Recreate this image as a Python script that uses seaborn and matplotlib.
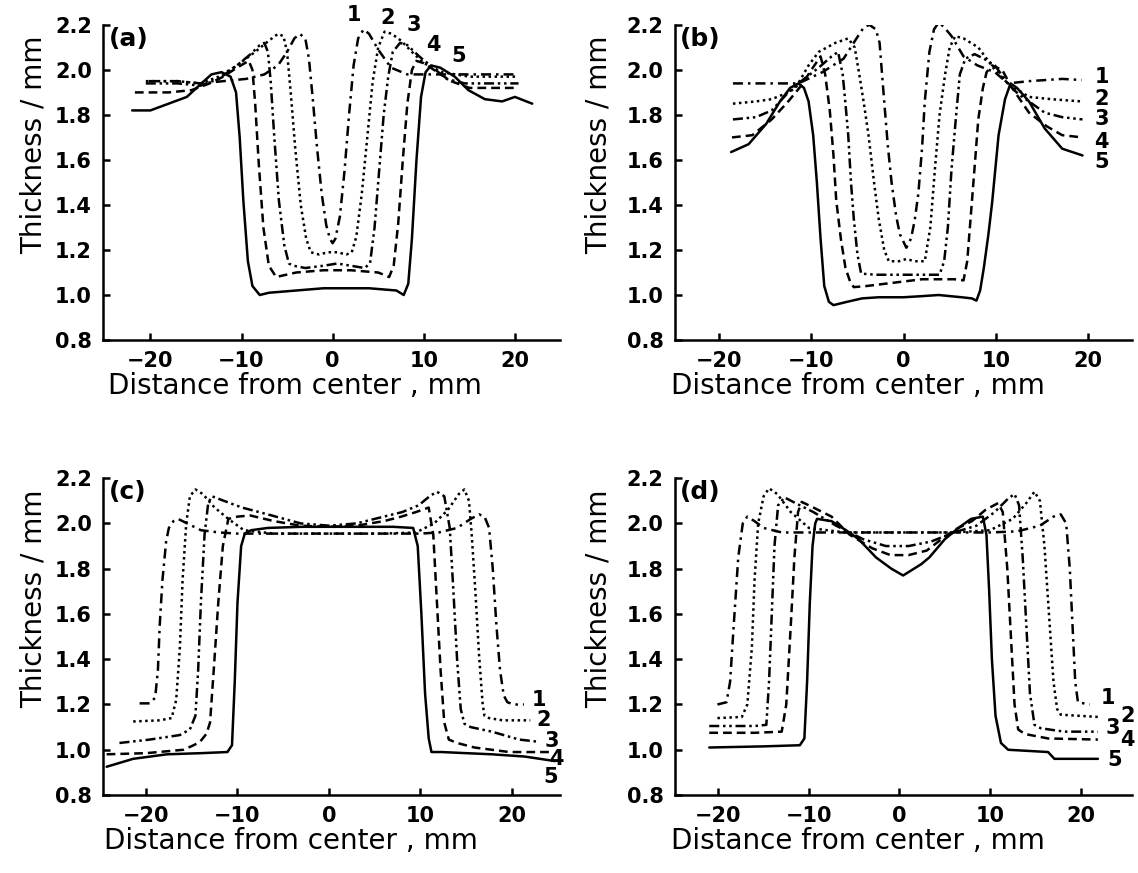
import matplotlib
matplotlib.use("Agg")
import matplotlib.pyplot as plt
import seaborn as sns
import pandas as pd

# ---- panel (a) ----
A1_X = [-20.2, -17, -14.5, -12, -9.5, -7.5, -6, -5, -4.2, -3.6, -3.0, -2.6, -2.2, -1.7, -1.2, -0.7, -0.3, 0.0,
        0.3, 0.8, 1.3, 1.8, 2.3, 2.8, 3.4, 4.0, 5.0, 6.4, 8.2, 10.5, 14, 20.4]
A1_Y = [1.95, 1.95, 1.94, 1.95, 1.96, 1.98, 2.02, 2.08, 2.14, 2.16, 2.14, 2.05, 1.88, 1.65, 1.45, 1.31, 1.25, 1.23,
        1.25, 1.35, 1.55, 1.80, 2.02, 2.14, 2.18, 2.16, 2.09, 2.01, 1.98, 1.98, 1.98, 1.98]
A2_X = [-20.5, -17, -14.5, -12.5, -10.5, -8.5, -7, -6.0, -5.4, -5.0, -4.6, -4.1, -3.5, -2.9, -2.4, -1.5, -0.5, 0.5,
        1.5, 2.1, 2.6, 3.2, 3.8, 4.4, 5.0, 5.7, 6.5, 7.5, 8.7, 10, 12, 15, 20.4]
A2_Y = [1.95, 1.95, 1.94, 1.97, 2.02, 2.08, 2.13, 2.16, 2.15, 2.08, 1.90, 1.65, 1.40, 1.25, 1.19, 1.18, 1.19, 1.19,
        1.18, 1.19, 1.26, 1.45, 1.70, 1.95, 2.10, 2.17, 2.16, 2.13, 2.08, 2.03, 1.99, 1.97, 1.97]
A3_X = [-20.5, -17, -14.5, -12.5, -10.5, -9, -8.0, -7.5, -7.1, -6.8, -6.4, -5.9, -5.3, -4.8, -4.3, -3, -1, 0.5, 2,
        3.5, 4.1, 4.6, 5.1, 5.6, 6.1, 6.6, 7.4, 8.2, 9.5, 11, 12.5, 14.5, 20.4]
A3_Y = [1.94, 1.94, 1.93, 1.96, 2.02, 2.07, 2.11, 2.12, 2.08, 1.95, 1.70, 1.42, 1.22, 1.14, 1.13, 1.12, 1.13, 1.14,
        1.13, 1.12, 1.14, 1.30, 1.55, 1.80, 1.97, 2.08, 2.12, 2.11, 2.06, 2.01, 1.96, 1.94, 1.94]
A4_X = [-21.7, -18, -15.5, -13.5, -12, -10.5, -9.2, -8.8, -8.5, -8.1, -7.6, -7.0, -6.2, -4, -1, 2, 5, 6.2, 6.7,
        7.2, 7.7, 8.2, 8.7, 9.2, 10, 11.5, 13, 15, 20.4]
A4_Y = [1.90, 1.90, 1.91, 1.94, 1.97, 2.01, 2.04, 2.00, 1.85, 1.58, 1.30, 1.13, 1.08, 1.10, 1.11, 1.11, 1.10, 1.08,
        1.13, 1.32, 1.60, 1.85, 2.00, 2.04, 2.03, 1.99, 1.95, 1.92, 1.92]
A5_X = [-22, -20, -18, -16, -14.4, -13.3, -12.2, -11.2, -10.6, -10.2, -9.8, -9.3, -8.8, -8.0, -7, -4, -1, 1, 4, 7,
        7.8, 8.3, 8.7, 9.2, 9.7, 10.2, 10.8, 11.8, 13.4, 14.9, 16.7, 18.6, 20.0, 21.9]
A5_Y = [1.82, 1.82, 1.85, 1.88, 1.94, 1.98, 1.99, 1.97, 1.90, 1.70, 1.42, 1.15, 1.04, 1.00, 1.01, 1.02, 1.03, 1.03,
        1.03, 1.02, 1.00, 1.05, 1.25, 1.60, 1.88, 1.99, 2.02, 2.01, 1.97, 1.91, 1.87, 1.86, 1.88, 1.85]

# ---- panel (b) ----
B1_X = [-18.5, -15, -11.4, -8.8, -6.5, -5.1, -4.3, -3.7, -3.0, -2.6, -2.1, -1.7, -1.3, -0.8, -0.4, 0.3, 0.8, 1.2,
        1.6, 2.0, 2.3, 2.8, 3.3, 3.8, 4.4, 5.2, 6.5, 8.0, 9.9, 11.3, 13.6, 17.2, 19.3]
B1_Y = [1.94, 1.94, 1.94, 1.99, 2.05, 2.14, 2.19, 2.20, 2.18, 2.12, 1.86, 1.66, 1.50, 1.35, 1.27, 1.21, 1.25, 1.33,
        1.45, 1.65, 1.86, 2.08, 2.18, 2.21, 2.19, 2.15, 2.06, 2.02, 1.99, 1.94, 1.95, 1.96, 1.955]
B2_X = [-18.5, -16, -14.3, -12.5, -11.7, -10.3, -9.2, -7.4, -6.0, -5.3, -4.8, -4.3, -3.8, -3.2, -2.7, -2.1, -1.6,
        -0.5, 0.3, 1.2, 2.3, 2.9, 3.4, 3.9, 4.5, 5.0, 5.6, 6.5, 8.1, 9.9, 11.3, 13.6, 16, 19.3]
B2_Y = [1.85, 1.86, 1.87, 1.90, 1.92, 2.02, 2.08, 2.12, 2.14, 2.10, 1.98, 1.85, 1.71, 1.50, 1.34, 1.20, 1.15,
        1.15, 1.16, 1.15, 1.15, 1.30, 1.56, 1.80, 1.98, 2.10, 2.15, 2.14, 2.10, 2.00, 1.94, 1.88, 1.87, 1.86]
B3_X = [-18.5, -16, -14.3, -12.5, -11.1, -9.2, -7.8, -7.1, -6.6, -6.3, -6.0, -5.7, -5.4, -5.0, -4.6, -3, -1, 1, 3,
        3.9, 4.4, 4.8, 5.2, 5.7, 6.1, 6.7, 7.7, 8.7, 9.9, 11.3, 12.5, 13.6, 15.3, 17.2, 19.4]
B3_Y = [1.78, 1.79, 1.82, 1.90, 1.95, 2.01, 2.06, 2.08, 1.98, 1.85, 1.71, 1.50, 1.34, 1.18, 1.095, 1.09, 1.09,
        1.09, 1.09, 1.09, 1.15, 1.30, 1.56, 1.80, 1.98, 2.05, 2.07, 2.05, 2.02, 1.94, 1.89, 1.86, 1.81, 1.79, 1.78]
B4_X = [-18.6, -16.4, -14.3, -12.5, -11.1, -10.0, -9.0, -8.5, -8.0, -7.6, -7.3, -6.8, -6.3, -5.8, -5.4, -4, -2, 0,
        2, 4, 5.5, 6.5, 6.9, 7.4, 7.8, 8.1, 8.6, 9.0, 9.6, 10.7, 11.6, 13.6, 15.5, 17.2, 19.4]
B4_Y = [1.70, 1.71, 1.78, 1.86, 1.93, 2.00, 2.06, 1.98, 1.82, 1.62, 1.42, 1.25, 1.12, 1.06, 1.035, 1.04, 1.05,
        1.06, 1.07, 1.07, 1.07, 1.065, 1.15, 1.41, 1.62, 1.78, 1.92, 1.99, 2.02, 2.00, 1.93, 1.81, 1.75, 1.71, 1.70]
B5_X = [-18.7, -16.8, -14.9, -13.4, -12.3, -11.4, -10.8, -10.3, -9.8, -9.4, -9.0, -8.6, -8.1, -7.6, -6.1, -4.5,
        -2.7, 0, 2, 3.8, 6.3, 7.4, 7.9, 8.3, 8.7, 9.2, 9.6, 10.3, 11.0, 11.6, 12.3, 13.6, 15.3, 17.2, 19.4]
B5_Y = [1.635, 1.67, 1.76, 1.86, 1.92, 1.94, 1.92, 1.86, 1.71, 1.50, 1.25, 1.04, 0.97, 0.955, 0.97, 0.985,
        0.99, 0.99, 0.995, 1.00, 0.99, 0.985, 0.975, 1.02, 1.12, 1.27, 1.41, 1.71, 1.87, 1.94, 1.92, 1.86, 1.74,
        1.65, 1.62]

# ---- panel (c) ----
C1_X = [-20.7, -19.6, -19.0, -18.7, -18.5, -18.2, -17.8, -17.5, -17.0, -16.5, -15.5, -14, -12, -10, -6, 0, 6, 10,
        12, 14, 15.5, 16.4, 17.0, 17.5, 17.9, 18.3, 18.7, 19.1, 19.5, 20.2, 21.3]
C1_Y = [1.205, 1.205, 1.23, 1.35, 1.55, 1.75, 1.92, 1.98, 2.01, 2.02, 2.00, 1.97, 1.96, 1.955, 1.955, 1.955, 1.955,
        1.955, 1.96, 1.98, 2.02, 2.04, 2.03, 1.98, 1.80, 1.55, 1.35, 1.24, 1.21, 1.20, 1.20]
C2_X = [-21.4, -18.5, -17.2, -16.7, -16.3, -16.0, -15.6, -15.2, -14.6, -13.8, -12.5, -11, -9.3, -6, 0, 6, 9.5,
        11.5, 13, 14.2, 14.8, 15.3, 15.6, 16.0, 16.4, 16.8, 17.0, 17.5, 19, 22.0]
C2_Y = [1.125, 1.13, 1.14, 1.22, 1.45, 1.75, 2.00, 2.12, 2.15, 2.13, 2.07, 2.02, 1.97, 1.955, 1.955, 1.955, 1.96,
        2.00, 2.06, 2.13, 2.15, 2.10, 1.95, 1.70, 1.42, 1.20, 1.15, 1.14, 1.13, 1.13]
C3_X = [-22.9, -19.6, -16.3, -15.2, -14.6, -14.3, -14.0, -13.6, -13.2, -12.8, -11.5, -9.5, -6.7, -3.1, 0, 3, 6.0,
        8.0, 9.8, 11.0, 11.8, 12.6, 13.2, 13.6, 14.0, 14.4, 14.8, 15.5, 17.8, 20.8, 23.0]
C3_Y = [1.03, 1.045, 1.065, 1.09, 1.15, 1.35, 1.65, 1.95, 2.09, 2.12, 2.10, 2.07, 2.04, 2.00, 1.99, 2.00, 2.03,
        2.05, 2.08, 2.12, 2.14, 2.12, 1.98, 1.70, 1.40, 1.18, 1.115, 1.10, 1.08, 1.045, 1.035]
C4_X = [-24.3, -20, -15.9, -14.8, -14.1, -13.4, -13.0, -12.6, -12.1, -11.6, -11.0, -10.0, -8.6, -6, -3.1, 0, 3, 6,
        7.9, 9.5, 10.9, 11.4, 11.8, 12.2, 12.6, 13.1, 14, 15.9, 19.7, 24.4]
C4_Y = [0.98, 0.985, 1.00, 1.02, 1.035, 1.07, 1.12, 1.35, 1.65, 1.90, 2.02, 2.03, 2.035, 2.01, 1.99, 1.985, 1.99,
        2.01, 2.03, 2.05, 2.07, 1.95, 1.65, 1.35, 1.12, 1.045, 1.03, 1.01, 0.99, 0.99]
C5_X = [-24.3, -21.4, -17.7, -14, -11.1, -10.6, -10.3, -10.0, -9.6, -9.2, -8.5, -6.7, -3, 0.6, 4, 7, 9.2, 9.7,
        10.1, 10.5, 10.9, 11.2, 12.3, 15, 17.8, 21.4, 24.7]
C5_Y = [0.925, 0.96, 0.98, 0.985, 0.99, 1.02, 1.30, 1.65, 1.90, 1.955, 1.97, 1.98, 1.985, 1.985, 1.985, 1.985,
        1.98, 1.90, 1.60, 1.25, 1.05, 0.99, 0.99, 0.985, 0.98, 0.97, 0.95]

# ---- panel (d) ----
D1_X = [-20.1, -19.1, -18.7, -18.3, -17.8, -17.3, -16.8, -16.0, -15, -13, -10, -6, 0, 6, 10, 13, 15.5, 17, 17.8,
        18.4, 18.8, 19.1, 19.4, 19.7, 21.0]
D1_Y = [1.20, 1.21, 1.30, 1.55, 1.85, 2.00, 2.03, 2.01, 1.98, 1.96, 1.96, 1.96, 1.96, 1.96, 1.96, 1.965, 1.99,
        2.03, 2.04, 2.00, 1.80, 1.55, 1.30, 1.21, 1.20]
D2_X = [-20.1, -17.4, -16.8, -16.3, -16.0, -15.6, -15.0, -14.4, -13.5, -12, -10, -6, 0, 6, 10, 12.5, 14.0, 14.9,
        15.5, 16.0, 16.5, 17.0, 17.4, 17.8, 21.9]
D2_Y = [1.14, 1.145, 1.20, 1.45, 1.75, 2.00, 2.12, 2.155, 2.13, 2.05, 1.98, 1.96, 1.96, 1.96, 1.97, 2.02, 2.09,
        2.14, 2.10, 1.90, 1.60, 1.30, 1.18, 1.155, 1.145]
D3_X = [-21, -16, -14.7, -14.4, -14.1, -13.8, -13.4, -12.7, -11.5, -9.5, -7, -4, -1.5, 1, 3.5, 6, 8.5, 10.5, 12,
        12.7, 13.2, 13.6, 14.0, 14.4, 14.9, 15.6, 18.2, 21.9]
D3_Y = [1.105, 1.105, 1.11, 1.30, 1.60, 1.90, 2.08, 2.115, 2.09, 2.05, 1.99, 1.93, 1.90, 1.90, 1.92, 1.96, 1.99,
        2.05, 2.11, 2.13, 2.08, 1.85, 1.55, 1.25, 1.11, 1.095, 1.08, 1.08]
D4_X = [-21, -16, -13, -12.5, -12.0, -11.6, -11.2, -10.8, -9.5, -7.5, -5.5, -3, -1, 1, 3, 4.3, 6, 8, 9.5, 10.9,
        11.4, 11.9, 12.3, 12.7, 13.1, 13.8, 16.4, 21.9]
D4_Y = [1.075, 1.075, 1.08, 1.20, 1.55, 1.85, 2.05, 2.095, 2.07, 2.03, 1.95, 1.89, 1.86, 1.86, 1.88, 1.92, 1.97,
        2.01, 2.06, 2.09, 2.05, 1.80, 1.50, 1.20, 1.09, 1.07, 1.05, 1.045]
D5_X = [-21, -15, -11, -10.5, -10.2, -9.9, -9.6, -9.3, -9.1, -7.5, -5.9, -4.5, -2.6, -0.9, 0.4, 1.2, 2.4, 3.3,
        5.0, 6.5, 7.9, 9.2, 9.6, 9.9, 10.2, 10.6, 11.2, 12.0, 16.4, 17.1, 21.9]
D5_Y = [1.01, 1.015, 1.02, 1.05, 1.30, 1.65, 1.90, 2.00, 2.02, 2.01, 1.97, 1.93, 1.85, 1.80, 1.77, 1.79, 1.82,
        1.85, 1.93, 1.98, 2.02, 2.03, 1.95, 1.70, 1.40, 1.15, 1.03, 1.00, 0.99, 0.96, 0.96]

CURVE_NAMES = ['1', '2', '3', '4', '5']
# 1 dash-dot, 2 dotted, 3 dash-dot-dot, 4 dashed, 5 solid
DASHES = {'1': (4, 2, 1, 2), '2': (1, 1.4), '3': (4, 1.5, 1, 1.5, 1, 1.5), '4': (3.5, 2), '5': ''}

YTICKS = [0.8, 1.0, 1.2, 1.4, 1.6, 1.8, 2.0, 2.2]
XTICKS = [-20, -10, 0, 10, 20]

# label positions of the curve numbers (data coords)
A_NUM = [(2.3, 2.245), (6.0, 2.23), (8.9, 2.20), (11.1, 2.11), (13.8, 2.06)]
B_NUM = [(21.5, 1.97), (21.5, 1.87), (21.5, 1.78), (21.5, 1.68), (21.5, 1.59)]
C_NUM = [(23.0, 1.22), (23.5, 1.13), (24.4, 1.04), (24.9, 0.96), (24.2, 0.88)]
D_NUM = [(23.0, 1.23), (25.2, 1.15), (23.5, 1.095), (25.2, 1.045), (23.7, 0.955)]

sns.set_theme(style='ticks')
plt.rcParams['font.family'] = ['DejaVu Sans']
plt.rcParams['text.color'] = 'black'
plt.rcParams['axes.labelcolor'] = 'black'


def make_frame(curves):
    rows = []
    for name, (xs, ys) in zip(CURVE_NAMES, curves):
        for x, y in zip(xs, ys):
            rows.append({'x': x, 'y': y, 'curve': name})
    return pd.DataFrame(rows)


def draw_panel(ax, curves, tag, xlim, nums, xlab_x, ylab_x):
    df = make_frame(curves)
    sns.lineplot(data=df, x='x', y='y', style='curve', style_order=CURVE_NAMES,
                 dashes=DASHES, color='black', linewidth=1.8, sort=False,
                 estimator=None, legend=False, ax=ax)
    ax.set_xlim(*xlim)
    ax.set_ylim(0.8, 2.2)
    ax.set_xticks(XTICKS)
    ax.set_yticks(YTICKS)
    ax.set_yticklabels([f'{v:.1f}' for v in YTICKS])
    for s in ['top', 'right']:
        ax.spines[s].set_visible(False)
    for s in ['left', 'bottom']:
        ax.spines[s].set_linewidth(1.8)
        ax.spines[s].set_color('black')
    ax.tick_params(direction='in', length=5, width=1.8, labelsize=15, pad=8,
                   colors='black', labelcolor='black')
    for lab in ax.get_xticklabels() + ax.get_yticklabels():
        lab.set_fontweight('bold')
    ax.set_xlabel('Distance from center , mm', fontsize=20, color='black')
    ax.set_ylabel('Thickness / mm', fontsize=20, color='black')
    ax.xaxis.set_label_coords(xlab_x, -0.10)
    ax.yaxis.set_label_coords(ylab_x, 0.62)
    ax.text(0.012, 0.955, tag, transform=ax.transAxes, fontsize=18,
            fontweight='bold', ha='left', va='center', color='black')
    for name, (x, y) in zip(CURVE_NAMES, nums):
        ax.text(x, y, name, fontsize=15, fontweight='bold', ha='center', va='center', color='black')
    ax.set_facecolor('white')


fig = plt.figure(figsize=(11.38, 8.73), dpi=100)
fig.patch.set_facecolor('white')

ax_a = fig.add_axes([0.0905, 0.6105, 0.402, 0.361])
ax_b = fig.add_axes([0.593, 0.6105, 0.402, 0.361])
ax_c = fig.add_axes([0.0905, 0.0893, 0.402, 0.363])
ax_d = fig.add_axes([0.593, 0.0893, 0.402, 0.363])

draw_panel(ax_a, [(A1_X, A1_Y), (A2_X, A2_Y), (A3_X, A3_Y), (A4_X, A4_Y), (A5_X, A5_Y)],
           '(a)', (-25.2, 25.0), A_NUM, 0.42, -0.122)
draw_panel(ax_b, [(B1_X, B1_Y), (B2_X, B2_Y), (B3_X, B3_Y), (B4_X, B4_Y), (B5_X, B5_Y)],
           '(b)', (-24.8, 24.8), B_NUM, 0.40, -0.137)
draw_panel(ax_c, [(C1_X, C1_Y), (C2_X, C2_Y), (C3_X, C3_Y), (C4_X, C4_Y), (C5_X, C5_Y)],
           '(c)', (-24.7, 25.3), C_NUM, 0.41, -0.122)
draw_panel(ax_d, [(D1_X, D1_Y), (D2_X, D2_Y), (D3_X, D3_Y), (D4_X, D4_Y), (D5_X, D5_Y)],
           '(d)', (-24.8, 25.7), D_NUM, 0.40, -0.137)

fig.savefig('out.png', dpi=100, facecolor='white')
